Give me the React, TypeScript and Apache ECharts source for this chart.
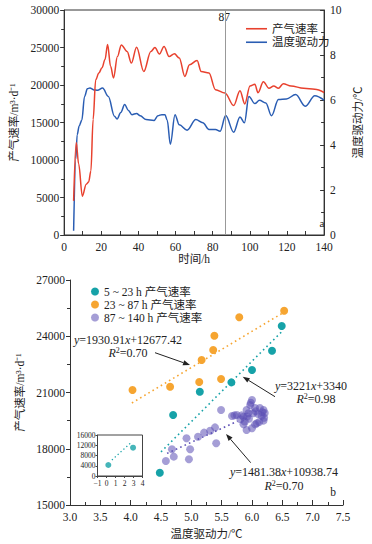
import React, { useEffect, useRef } from "react";
import * as echarts from "echarts";

// ---------- Figure a: time series ----------
const redHours = [5.1, 6.5, 7.8, 9.8, 11.9, 13.2, 14.4, 15.6, 17, 18.7, 20.4, 22, 23.4, 25, 26.6, 28.7, 30.8, 33.9, 36.2, 39, 42.9, 46.7, 48.9, 51.3, 53.8, 56.5, 59.4, 62, 65, 67.5, 71.6, 73.8, 78, 81.5, 86.6, 91.3, 94.7, 97.3, 100.1, 102.7, 104.4, 107.3, 110.3, 112.9, 115.4, 118, 122.2, 129, 135, 140];
const redRate = [4550, 12350, 9500, 5180, 6770, 7080, 8540, 15400, 20700, 21600, 22300, 23400, 25400, 22500, 20950, 23800, 25350, 24470, 22920, 25050, 21800, 24470, 25000, 24120, 25130, 23800, 24160, 23590, 21150, 22700, 23270, 21800, 21600, 19380, 18940, 17260, 19250, 17480, 19870, 20090, 18980, 20440, 19560, 19870, 19560, 20180, 19870, 19560, 19430, 19000];

const blueHours = [5.1, 6.3, 7, 8.1, 9.5, 11, 12.5, 13.9, 16, 18, 20.7, 23.8, 27.1, 28.5, 30.5, 32.6, 34.5, 36.5, 39, 41, 44.1, 48.4, 50.5, 52.6, 54.3, 55.5, 57.2, 59.7, 62, 66.2, 70.9, 74.7, 78, 81.5, 84, 87, 91.3, 94.7, 97.1, 99.5, 102.7, 105.2, 108.6, 111.7, 115.4, 119.7, 124.7, 129.8, 135, 140];
const blueDrive = [0.19, 3.4, 4.45, 4.85, 5.1, 6.16, 6.5, 6.53, 6.45, 6.43, 6.53, 6.16, 5.28, 5.16, 5.45, 5.8, 5.55, 5.35, 5.4, 5.3, 5.13, 5.09, 5.3, 5.35, 5.35, 5.1, 4.03, 5.35, 4.9, 4.66, 5.13, 4.99, 4.69, 4.69, 4.61, 5.31, 4.57, 5.25, 4.99, 6.16, 5.84, 5.99, 5.87, 5.3, 6.02, 6.05, 6.24, 5.72, 6.19, 5.99];

const cutHour = 87;

// ---------- Figure b: scatter ----------
const tealDrive = [4.48, 4.70, 5.14, 5.66, 6.00, 6.33, 6.49];
const tealRate = [16720, 19800, 21040, 21540, 22200, 23230, 24550];

const orangeDrive = [4.03, 4.65, 5.13, 5.17, 5.36, 5.38, 5.49, 5.79, 6.53];
const orangeRate = [21130, 21310, 21560, 22730, 23270, 24030, 21720, 25010, 25360];

const purpleDrive = [4.58, 4.68, 4.71, 4.92, 4.96, 4.98, 5.11, 5.21, 5.31, 5.39, 5.41, 5.49, 5.67, 5.75, 5.81, 5.86, 5.88, 5.91, 6.00, 6.08, 6.19, 6.21, 6.19, 6.13, 6.05, 6.00, 5.97, 5.91, 5.94, 6.02, 6.10, 5.95, 5.86, 6.16, 6.05, 5.92, 6.17, 6.20, 5.98, 6.06, 5.83, 6.12, 5.71];
const purpleRate = [17350, 17970, 17580, 18560, 17440, 17970, 18640, 18860, 18960, 19140, 18290, 20070, 19750, 19800, 19570, 19710, 19450, 19000, 19090, 19360, 19500, 19910, 20070, 20170, 20170, 20600, 20330, 20070, 19890, 19890, 19850, 19600, 19310, 19760, 19300, 19720, 19950, 19650, 20450, 20000, 19780, 19430, 19780];

const fitSlopes = [3221, 1930.91, 1481.38];
const fitIntercepts = [3340, 12677.42, 10938.74];
const fitFrom = [4.5, 4.02, 4.6];
const fitTo = [6.49, 6.5, 5.76];

const insetDrive = [0.2, 2.95];
const insetRate = [4300, 11050];
const insetFitDrive = [0.6, 2.84];
const insetFitRate = [6250, 13400];

const seriesNamesA = ["产气速率", "温度驱动力"];
const seriesNamesB = ["5 ~ 23 h 产气速率", "23 ~ 87 h 产气速率", "87 ~ 140 h 产气速率"];

const SERIF = '"Liberation Serif", "Times New Roman", "Noto Sans CJK SC", serif';
const AX = "#333";
const TXT = "#222";
const RED = "#e8412e";
const BLUE = "#2a5db3";
const TEAL = "#16a2a8";
const ORANGE = "#f6a531";
const PURPLE = "#5b4eb5";

const zip = (xs: number[], ys: number[]) => xs.map((x, i) => [x, ys[i]]);
const plain = (v: number) => String(v).replace("-", "−");

function arrow(x1: number, y1: number, x2: number, y2: number) {
  const a = Math.atan2(y2 - y1, x2 - x1);
  const L = 7, W = 2.6;
  const c = Math.cos(a), s = Math.sin(a);
  const bx = x2 - L * c, by = y2 - L * s;
  return [
    { type: "line", shape: { x1, y1, x2: bx, y2: by }, style: { stroke: TXT, lineWidth: 1 } },
    { type: "polygon", shape: { points: [[x2, y2], [bx - s * W, by + c * W], [bx + s * W, by - c * W]] }, style: { fill: TXT } },
  ];
}

const rich = {
  n: { fontFamily: SERIF, fontSize: 12, color: TXT },
  i: { fontFamily: SERIF, fontSize: 12, color: TXT, fontStyle: "italic" },
  s: { fontFamily: SERIF, fontSize: 8, color: TXT, verticalAlign: "top", padding: [0, 0, 5, 0] },
};

function label(text: string, x: number, y: number, align = "center") {
  return {
    type: "text",
    x,
    y,
    style: { text, rich, textAlign: align, textVerticalAlign: "middle", fontFamily: SERIF, fontSize: 12, fill: TXT },
  };
}

function eq(k: string, b: string) {
  return `{i|y}{n|=${k}}{i|x}{n|+${b}}`;
}
function r2(v: string) {
  return `{i|R}{s|2}{n|=${v}}`;
}

function axisCommon(fontSize = 11.5) {
  return {
    axisLine: { show: true, onZero: false, lineStyle: { color: AX, width: 1 } },
    splitLine: { show: false },
    axisLabel: { color: TXT, fontFamily: SERIF, fontSize, formatter: plain },
    nameTextStyle: { color: TXT, fontFamily: SERIF, fontSize: 11.5 },
  };
}

const LINE_ICON = "path://M0,0L21,0L21,1.6L0,1.6Z";

export default function App() {
  const ref = useRef<HTMLDivElement>(null);
  useEffect(() => {
    if (!ref.current) return;
    const chart = echarts.init(ref.current, undefined, { renderer: "svg" });
    const c = axisCommon();
    const fitSeries = fitSlopes.map((k, i) => ({
      type: "line",
      xAxisIndex: 1,
      yAxisIndex: 2,
      symbol: "none",
      silent: true,
      z: 1,
      lineStyle: { color: [TEAL, ORANGE, PURPLE][i], width: 1.6, type: [1.6, 3.2] },
      data: [
        [fitFrom[i], k * fitFrom[i] + fitIntercepts[i]],
        [fitTo[i], k * fitTo[i] + fitIntercepts[i]],
      ],
    }));
    const option: any = {
      animation: false,
      backgroundColor: "#fff",
      textStyle: { fontFamily: SERIF },
      grid: [
        { left: 60, top: 10, width: 276, height: 225, show: true, borderColor: AX, borderWidth: 1, backgroundColor: "transparent" },
        { left: 70, top: 280, width: 273, height: 225 },
        { left: 97.5, top: 435, width: 45, height: 41, show: true, borderColor: "#444", borderWidth: 1, backgroundColor: "transparent" },
      ],
      legend: [
        {
          data: seriesNamesA.map((name) => ({ name, icon: LINE_ICON })),
          orient: "vertical",
          left: 241,
          top: 18,
          itemWidth: 21,
          itemHeight: 12,
          itemGap: 2,
          selectedMode: false,
          textStyle: { color: TXT, fontFamily: SERIF, fontSize: 11.5 },
        },
        {
          data: seriesNamesB,
          orient: "vertical",
          left: 86,
          top: 280,
          itemWidth: 8,
          itemHeight: 8,
          itemGap: 0,
          selectedMode: false,
          textStyle: { color: TXT, fontFamily: SERIF, fontSize: 11.5, lineHeight: 13 },
        },
      ],
      xAxis: [
        {
          ...c,
          gridIndex: 0,
          type: "value",
          min: 0,
          max: 140,
          interval: 20,
          axisTick: { show: true, inside: true, length: 4, lineStyle: { color: AX } },
          minorTick: { show: true, splitNumber: 2, length: 4, lineStyle: { color: AX } },
          axisLabel: { ...c.axisLabel, margin: 6 },
          name: "时间/h",
          nameLocation: "middle",
          nameGap: 17,
        },
        {
          ...c,
          gridIndex: 1,
          type: "value",
          min: 3,
          max: 7.5,
          interval: 0.5,
          axisTick: { show: true, inside: true, length: 5, lineStyle: { color: AX } },
          minorTick: { show: true, splitNumber: 2, length: 3, lineStyle: { color: AX } },
          axisLabel: { ...c.axisLabel, margin: 6, formatter: (v: number) => v.toFixed(1) },
          name: "温度驱动力/℃",
          nameLocation: "middle",
          nameGap: 23,
        },
        {
          ...c,
          gridIndex: 2,
          type: "value",
          min: -1,
          max: 4,
          interval: 1,
          axisLine: { show: true, onZero: false, lineStyle: { color: "#444" } },
          axisTick: { show: true, inside: false, length: 2, lineStyle: { color: "#444" } },
          axisLabel: { color: TXT, fontFamily: SERIF, fontSize: 7.5, margin: 4, formatter: plain },
        },
      ],
      yAxis: [
        {
          ...c,
          gridIndex: 0,
          type: "value",
          min: 0,
          max: 30000,
          interval: 5000,
          axisTick: { show: true, inside: false, length: 4, lineStyle: { color: AX } },
          minorTick: { show: true, splitNumber: 2, length: 3, lineStyle: { color: AX } },
          axisLabel: { ...c.axisLabel, margin: 5 },
          name: "产气速率/m³·d⁻¹",
          nameLocation: "middle",
          nameRotate: 90,
          nameGap: 40,
        },
        {
          ...c,
          gridIndex: 0,
          type: "value",
          position: "right",
          min: 0,
          max: 10,
          interval: 2,
          axisTick: { show: true, inside: true, length: 4, lineStyle: { color: AX } },
          minorTick: { show: true, splitNumber: 2, length: 3, lineStyle: { color: AX } },
          axisLabel: { ...c.axisLabel, margin: 6 },
          name: "温度驱动力/℃",
          nameLocation: "middle",
          nameRotate: 90,
          nameGap: 25,
        },
        {
          ...c,
          gridIndex: 1,
          type: "value",
          min: 15000,
          max: 27000,
          interval: 3000,
          axisTick: { show: true, inside: false, length: 4, lineStyle: { color: AX } },
          minorTick: { show: true, splitNumber: 2, length: 3, lineStyle: { color: AX } },
          axisLabel: { ...c.axisLabel, margin: 5 },
          name: "产气速率/m³·d⁻¹",
          nameLocation: "middle",
          nameRotate: 90,
          nameGap: 36,
        },
        {
          ...c,
          gridIndex: 2,
          type: "value",
          min: 0,
          max: 16000,
          interval: 4000,
          axisLine: { show: true, onZero: false, lineStyle: { color: "#444" } },
          axisTick: { show: true, inside: false, length: 2, lineStyle: { color: "#444" } },
          axisLabel: { color: TXT, fontFamily: SERIF, fontSize: 7.5, margin: 2, formatter: plain },
        },
      ],
      series: [
        {
          name: seriesNamesA[0],
          type: "line",
          xAxisIndex: 0,
          yAxisIndex: 0,
          symbol: "none",
          smooth: 0.35,
          smoothMonotone: "x",
          lineStyle: { color: RED, width: 1.5 },
          itemStyle: { color: RED },
          data: zip(redHours, redRate),
          markLine: {
            silent: true,
            symbol: "none",
            label: { show: false },
            lineStyle: { color: "#999", width: 1, type: "solid" },
            data: [{ xAxis: cutHour }],
          },
          z: 3,
        },
        {
          name: seriesNamesA[1],
          type: "line",
          xAxisIndex: 0,
          yAxisIndex: 1,
          symbol: "none",
          smooth: 0.35,
          smoothMonotone: "x",
          lineStyle: { color: BLUE, width: 1.5 },
          itemStyle: { color: BLUE },
          data: zip(blueHours, blueDrive),
          z: 2,
        },
        ...fitSeries,
        {
          name: seriesNamesB[0],
          type: "scatter",
          xAxisIndex: 1,
          yAxisIndex: 2,
          symbolSize: 8,
          itemStyle: { color: TEAL, opacity: 1 },
          data: zip(tealDrive, tealRate),
          z: 3,
        },
        {
          name: seriesNamesB[1],
          type: "scatter",
          xAxisIndex: 1,
          yAxisIndex: 2,
          symbolSize: 8,
          itemStyle: { color: ORANGE, opacity: 1 },
          data: zip(orangeDrive, orangeRate),
          z: 3,
        },
        {
          name: seriesNamesB[2],
          type: "scatter",
          xAxisIndex: 1,
          yAxisIndex: 2,
          symbolSize: 8,
          itemStyle: { color: PURPLE, opacity: 0.55 },
          data: zip(purpleDrive, purpleRate),
          z: 3,
        },
        {
          type: "line",
          xAxisIndex: 2,
          yAxisIndex: 3,
          symbol: "none",
          silent: true,
          lineStyle: { color: TEAL, width: 1.3, type: [1.3, 2.6] },
          data: zip(insetFitDrive, insetFitRate),
        },
        {
          type: "scatter",
          xAxisIndex: 2,
          yAxisIndex: 3,
          symbolSize: 6,
          itemStyle: { color: TEAL },
          data: zip(insetDrive, insetRate),
        },
      ],
      graphic: [
        { type: "text", x: 230, y: 17, style: { text: String(cutHour), textAlign: "right", textVerticalAlign: "middle", fontFamily: SERIF, fontSize: 11.5, fill: TXT } },
        { type: "text", x: 322, y: 223, style: { text: "a", textAlign: "center", textVerticalAlign: "middle", fontFamily: SERIF, fontSize: 11, fill: TXT } },
        { type: "text", x: 333, y: 492, style: { text: "b", textAlign: "center", textVerticalAlign: "middle", fontFamily: SERIF, fontSize: 11.5, fill: TXT } },
        label(eq("1930.91", "12677.42"), 128, 340),
        label(r2("0.70"), 128, 353),
        label(eq("3221", "3340"), 311, 386),
        label(r2("0.98"), 316, 398.5),
        label(eq("1481.38", "10938.74"), 284, 471.5),
        label(r2("0.70"), 284, 485.5),
        ...arrow(155, 352.7, 190, 365),
        ...arrow(275, 396.7, 242.7, 376.7),
        ...arrow(250.7, 462.7, 226, 434),
      ],
    };
    chart.setOption(option);
    return () => chart.dispose();
  }, []);
  return <div ref={ref} style={{ position: "fixed", left: 0, top: 0, width: 372, height: 544, background: "#fff" }} />;
}
